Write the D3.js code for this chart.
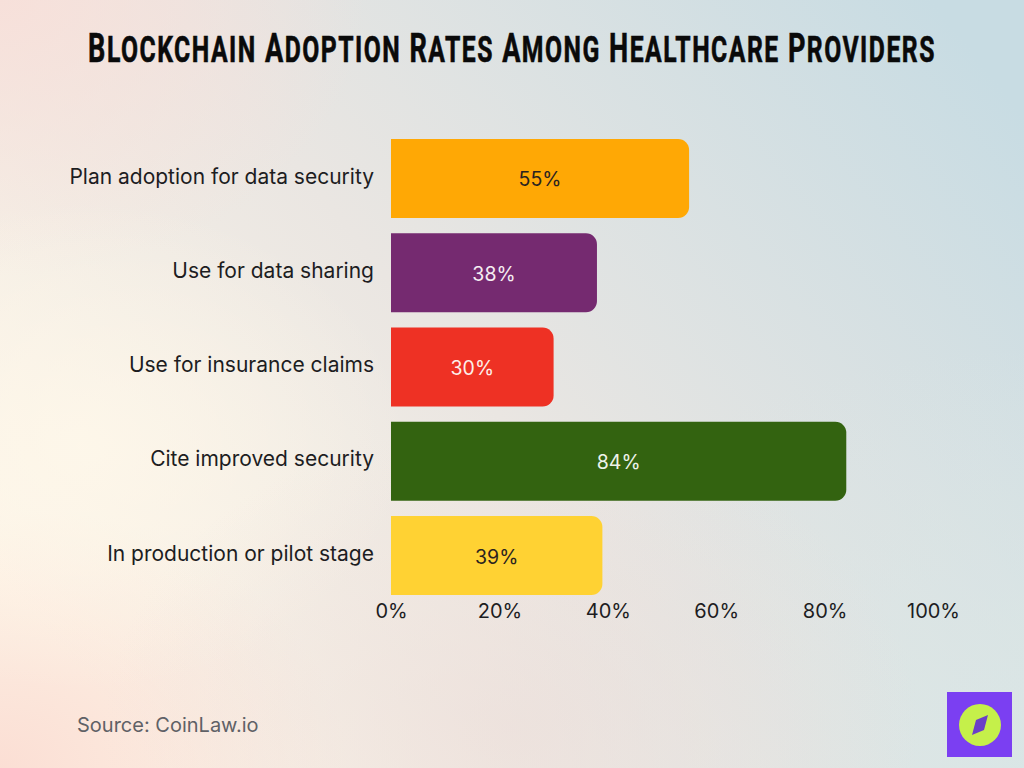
<!DOCTYPE html>
<html>
<head>
<meta charset="utf-8">
<script src="https://cdn.jsdelivr.net/npm/d3@7/dist/d3.min.js"></script>
<style>
html,body{margin:0;padding:0;background:#e8e6e3;overflow:hidden}
svg{display:block}
text{font-family:Inter,Lato,"Noto Sans",sans-serif}
</style>
</head>
<body>
<svg id="chart" width="1024" height="768"></svg>
<script>
const categories = ["Plan adoption for data security","Use for data sharing","Use for insurance claims","Cite improved security","In production or pilot stage"];
const values = [55,38,30,84,39];
const barColors = ["#ffa805","#752a70","#ee3124","#336310","#ffd233"];
const labelColors = ["#2a2320","#f5eef2","#fdeeea","#eef3ea","#2a2320"];
const ticks = [0,20,40,60,80,100];
const titleWords = ["Blockchain","Adoption","Rates","Among","Healthcare","Providers"];
const sourceText = "Source: CoinLaw.io";

const svg = d3.select("#chart");
const defs = svg.append("defs");

// Soft page wash: diagonal base with coloured glows in the corners
const base = defs.append("linearGradient").attr("id","wash")
  .attr("x1","0").attr("y1","0.75").attr("x2","1").attr("y2","0.15");
[["0%","#fdf5e8"],["45%","#eae6e2"],["100%","#c8dce3"]].forEach(s=>
  base.append("stop").attr("offset",s[0]).attr("stop-color",s[1]));

const glows = [
  {id:"gTL",cx:0,cy:0,r:.36,c:"#f8dfd9",o:.9},
  {id:"gBL",cx:0,cy:1,r:.34,c:"#fbdcd2",o:.9},
  {id:"gML",cx:.08,cy:.58,r:.32,c:"#fff8ea",o:.8},
  {id:"gBR",cx:1,cy:1,r:.55,c:"#d9e6e6",o:.9},
  {id:"gBM",cx:.5,cy:.95,r:.4,c:"#ecdeda",o:.7}
];
glows.forEach(g=>{
  const r = defs.append("radialGradient").attr("id",g.id)
    .attr("cx",g.cx).attr("cy",g.cy).attr("r",g.r);
  r.append("stop").attr("offset","0%").attr("stop-color",g.c).attr("stop-opacity",g.o);
  r.append("stop").attr("offset","100%").attr("stop-color",g.c).attr("stop-opacity",0);
});
svg.append("rect").attr("width",1024).attr("height",768).attr("fill","url(#wash)");
svg.selectAll("rect.glow").data(glows).join("rect").attr("class","glow")
  .attr("width",1024).attr("height",768).attr("fill",d=>`url(#${d.id})`);

// Condensed small-caps title: initials larger, then squeezed to its measure
const titleWidth = 848;
const title = svg.append("text")
  .attr("text-anchor","middle")
  .attr("fill","#0a0a0a").attr("stroke","#0a0a0a").attr("stroke-width",0.6)
  .style("font-family",'Roboto,sans-serif')
  .style("font-weight",700).style("letter-spacing","2.2px");
titleWords.forEach((w,i)=>{
  title.append("tspan").attr("font-size",40).text((i?" ":"")+w[0]);
  title.append("tspan").attr("font-size",36.5).text(w.slice(1).toUpperCase());
});
const squeeze = titleWidth / title.node().getComputedTextLength();
title.attr("transform",`translate(512,62) scale(${squeeze},1)`);

const x = d3.scaleLinear().domain([0,100]).range([391,933]);
const y = d3.scaleBand().domain(categories).range([139,595]).paddingInner(0.162);

// Bars: square at the baseline, rounded at the value end
const R = 11;
const barPath = (x0,x1,y0,y1)=>{
  const p = d3.path();
  p.moveTo(x0,y0);
  p.lineTo(x1-R,y0);
  p.arcTo(x1,y0,x1,y0+R,R);
  p.lineTo(x1,y1-R);
  p.arcTo(x1,y1,x1-R,y1,R);
  p.lineTo(x0,y1);
  p.closePath();
  return p.toString();
};
svg.append("g").selectAll("path").data(categories).join("path")
  .attr("d",(c,i)=>barPath(x(0),x(values[i]),y(c),y(c)+y.bandwidth()))
  .attr("fill",(c,i)=>barColors[i]);

// Value labels centred in each bar
svg.append("g").selectAll("text").data(categories).join("text")
  .attr("x",(c,i)=>(x(0)+x(values[i]))/2)
  .attr("y",c=>y(c)+y.bandwidth()/2+8)
  .attr("text-anchor","middle").attr("font-size",19.5)
  .attr("fill",(c,i)=>labelColors[i])
  .text((c,i)=>values[i]+"%");

// Category axis
const yAxis = svg.append("g").attr("transform","translate(391,-1.5)")
  .call(d3.axisLeft(y).tickSize(0).tickPadding(17));
yAxis.select(".domain").remove();
yAxis.selectAll("text").attr("font-size",21).attr("fill","#1d1d1f")
  .style("font-family",'Inter,Lato,"Noto Sans",sans-serif');

// Percentage axis
const xAxis = svg.append("g").attr("transform","translate(0,600)")
  .call(d3.axisBottom(x).tickValues(ticks).tickFormat(d=>d+"%").tickSize(0).tickPadding(4));
xAxis.select(".domain").remove();
xAxis.selectAll("text").attr("font-size",20).attr("fill","#1d1d1f")
  .style("font-family",'Inter,Lato,"Noto Sans",sans-serif');

svg.append("text").attr("x",77).attr("y",732).attr("font-size",20).attr("fill","#5f6166").text(sourceText);

// Compass badge
const badge = svg.append("g");
badge.append("rect").attr("x",947).attr("y",692).attr("width",65).attr("height",65).attr("fill","#7b3ff2");
badge.append("circle").attr("cx",980).attr("cy",725).attr("r",21).attr("fill","#c5f04a");
badge.append("path").attr("d",d3.line()([[988,715],[984,730],[972,735],[976,720]])+"Z").attr("fill","#6a3fc8");
</script>
</body>
</html>
